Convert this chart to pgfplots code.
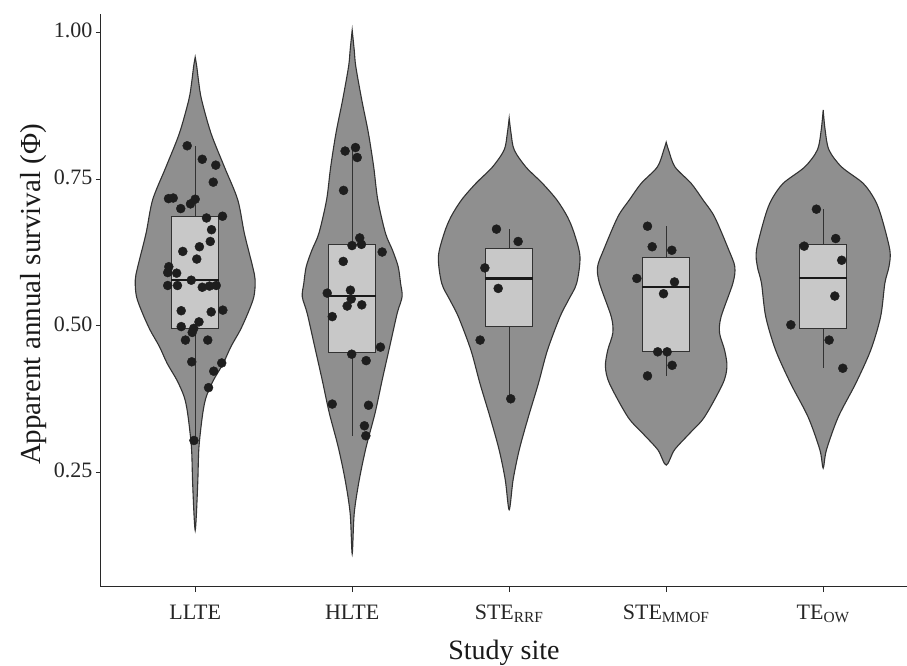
\documentclass[border=0pt]{standalone}
\usepackage{pgfplots}
\pgfplotsset{compat=1.18}
\usepackage{fontspec}
\setmainfont{Liberation Serif}
\definecolor{violgray}{RGB}{143,143,143}
\definecolor{boxgray}{RGB}{200,200,200}
\definecolor{ptcol}{RGB}{30,30,30}
\definecolor{outl}{RGB}{50,50,50}
\definecolor{axcol}{RGB}{40,40,40}
\begin{document}
\begin{tikzpicture}
\begin{axis}[
  scale only axis, width=806pt, height=573pt,
  xmin=0.4, xmax=5.534, ymin=0.0554, ymax=1.0315,
  axis x line*=bottom, axis y line*=left,
  axis line style={-, draw=axcol, line width=1pt},
  tick align=outside, major tick length=5pt,
  tick style={draw=axcol, line width=1pt},
  xtick={1,2,3,4,5},
  xticklabels={LLTE,HLTE,STE\textsubscript{RRF},STE\textsubscript{MMOF},TE\textsubscript{OW}},
  ytick={0.25,0.5,0.75,1},
  yticklabel style={/pgf/number format/.cd,fixed,fixed zerofill,precision=2,assume math mode=true},
  ticklabel style={font=\fontsize{22}{26}\selectfont, text=black!85},
  xticklabel style={yshift=-6pt},
  typeset ticklabels with strut,
  xlabel={Study site}, ylabel={Apparent annual survival (Φ)},
  label style={font=\fontsize{28}{33}\selectfont, text=black!90},
  xlabel style={at={(axis description cs:0.5,0)}, anchor=base, yshift=-72pt},
  ylabel style={at={(axis description cs:0,0.5)}, anchor=center, yshift=67pt, xshift=6pt, font=\fontsize{29}{34}\selectfont},
  clip=false,
]
% violins
\addplot[smooth, tension=0.5, fill=violgray, draw=outl, line width=1.1pt] coordinates {
(1.000,0.958) (1.010,0.942) (1.023,0.914) (1.041,0.885) (1.101,0.828) (1.186,0.771) (1.271,0.715) (1.313,0.658) (1.366,0.601) (1.382,0.578) (1.374,0.550) (1.336,0.522) (1.287,0.493) (1.228,0.465) (1.178,0.436) (1.117,0.408) (1.071,0.380) (1.048,0.351) (1.024,0.294) (1.017,0.238) (1.008,0.181) (1.000,0.152)
(0.992,0.181) (0.983,0.238) (0.976,0.294) (0.952,0.351) (0.929,0.380) (0.883,0.408) (0.822,0.436) (0.772,0.465) (0.713,0.493) (0.664,0.522) (0.626,0.550) (0.618,0.578) (0.634,0.601) (0.687,0.658) (0.729,0.715) (0.814,0.771) (0.899,0.828) (0.959,0.885) (0.977,0.914) (0.990,0.942) (1.000,0.958)} -- cycle;
\addplot[smooth, tension=0.5, fill=violgray, draw=outl, line width=1.1pt] coordinates {
(2.000,1.004) (2.013,0.970) (2.023,0.942) (2.061,0.885) (2.103,0.829) (2.137,0.771) (2.163,0.715) (2.212,0.658) (2.257,0.629) (2.293,0.601) (2.308,0.573) (2.318,0.550) (2.287,0.522) (2.239,0.465) (2.191,0.408) (2.146,0.352) (2.089,0.294) (2.045,0.238) (2.013,0.181) (2.000,0.112)
(1.987,0.181) (1.955,0.238) (1.911,0.294) (1.854,0.352) (1.809,0.408) (1.761,0.465) (1.713,0.522) (1.682,0.550) (1.692,0.573) (1.707,0.601) (1.743,0.629) (1.788,0.658) (1.837,0.715) (1.863,0.771) (1.897,0.829) (1.939,0.885) (1.977,0.942) (1.987,0.970) (2.000,1.004)} -- cycle;
\addplot[smooth, tension=0.5, fill=violgray, draw=outl, line width=1.1pt] coordinates {
(3.000,0.854) (3.012,0.828) (3.032,0.800) (3.106,0.771) (3.212,0.743) (3.303,0.715) (3.371,0.686) (3.414,0.658) (3.451,0.618) (3.430,0.573) (3.377,0.544) (3.324,0.516) (3.244,0.459) (3.186,0.402) (3.122,0.345) (3.064,0.289) (3.025,0.238) (3.000,0.187)
(2.975,0.238) (2.936,0.289) (2.878,0.345) (2.814,0.402) (2.756,0.459) (2.676,0.516) (2.623,0.544) (2.570,0.573) (2.549,0.618) (2.586,0.658) (2.629,0.686) (2.697,0.715) (2.788,0.743) (2.894,0.771) (2.968,0.800) (2.988,0.828) (3.000,0.854)} -- cycle;
\addplot[smooth, tension=0.5, fill=violgray, draw=outl, line width=1.1pt] coordinates {
(4.000,0.813) (4.015,0.800) (4.056,0.771) (4.159,0.743) (4.234,0.715) (4.308,0.686) (4.398,0.630) (4.437,0.601) (4.425,0.573) (4.350,0.516) (4.340,0.488) (4.372,0.459) (4.387,0.431) (4.361,0.402) (4.244,0.345) (4.149,0.317) (4.053,0.289) (4.000,0.263)
(3.947,0.289) (3.851,0.317) (3.756,0.345) (3.639,0.402) (3.613,0.431) (3.628,0.459) (3.660,0.488) (3.650,0.516) (3.575,0.573) (3.563,0.601) (3.602,0.630) (3.692,0.686) (3.766,0.715) (3.841,0.743) (3.944,0.771) (3.985,0.800) (4.000,0.813)} -- cycle;
\addplot[smooth, tension=0.5, fill=violgray, draw=outl, line width=1.1pt] coordinates {
(5.000,0.868) (5.012,0.835) (5.037,0.800) (5.117,0.771) (5.255,0.743) (5.329,0.715) (5.371,0.686) (5.425,0.629) (5.419,0.601) (5.393,0.573) (5.366,0.516) (5.303,0.459) (5.207,0.402) (5.096,0.345) (5.021,0.289) (5.000,0.258)
(4.979,0.289) (4.904,0.345) (4.793,0.402) (4.697,0.459) (4.634,0.516) (4.607,0.573) (4.581,0.601) (4.575,0.629) (4.629,0.686) (4.671,0.715) (4.745,0.743) (4.883,0.771) (4.963,0.800) (4.988,0.835) (5.000,0.868)} -- cycle;
% whiskers
\addplot[draw=outl, line width=1pt] coordinates {(1,0.686) (1,0.807)};
\addplot[draw=outl, line width=1pt] coordinates {(1,0.495) (1,0.305)};
\addplot[draw=outl, line width=1pt] coordinates {(2,0.639) (2,0.804)};
\addplot[draw=outl, line width=1pt] coordinates {(2,0.455) (2,0.313)};
\addplot[draw=outl, line width=1pt] coordinates {(3,0.632) (3,0.665)};
\addplot[draw=outl, line width=1pt] coordinates {(3,0.499) (3,0.376)};
\addplot[draw=outl, line width=1pt] coordinates {(4,0.616) (4,0.670)};
\addplot[draw=outl, line width=1pt] coordinates {(4,0.456) (4,0.415)};
\addplot[draw=outl, line width=1pt] coordinates {(5,0.639) (5,0.699)};
\addplot[draw=outl, line width=1pt] coordinates {(5,0.495) (5,0.428)};
% boxes
\addplot[fill=boxgray, draw=outl, line width=1pt] coordinates {(0.849,0.495) (1.151,0.495) (1.151,0.686) (0.849,0.686)} -- cycle;
\addplot[fill=boxgray, draw=outl, line width=1pt] coordinates {(1.849,0.455) (2.151,0.455) (2.151,0.639) (1.849,0.639)} -- cycle;
\addplot[fill=boxgray, draw=outl, line width=1pt] coordinates {(2.849,0.499) (3.151,0.499) (3.151,0.632) (2.849,0.632)} -- cycle;
\addplot[fill=boxgray, draw=outl, line width=1pt] coordinates {(3.849,0.456) (4.151,0.456) (4.151,0.616) (3.849,0.616)} -- cycle;
\addplot[fill=boxgray, draw=outl, line width=1pt] coordinates {(4.849,0.495) (5.151,0.495) (5.151,0.639) (4.849,0.639)} -- cycle;
% medians
\addplot[draw=black!90, line width=2.4pt] coordinates {(0.849,0.578) (1.151,0.578)};
\addplot[draw=black!90, line width=2.4pt] coordinates {(1.849,0.551) (2.151,0.551)};
\addplot[draw=black!90, line width=2.4pt] coordinates {(2.849,0.581) (3.151,0.581)};
\addplot[draw=black!90, line width=2.4pt] coordinates {(3.849,0.566) (4.151,0.566)};
\addplot[draw=black!90, line width=2.4pt] coordinates {(4.849,0.582) (5.151,0.582)};
% points
\addplot[only marks, mark=*, mark size=4.5pt, mark options={fill=ptcol, draw=ptcol}] coordinates {
(0.949,0.807) (1.045,0.784) (1.131,0.774) (1.115,0.745) (0.830,0.717) (0.860,0.718) (0.908,0.700) (0.970,0.708) (1.000,0.716)
(1.072,0.684) (1.174,0.687) (1.104,0.664) (1.096,0.644) (1.027,0.635) (0.921,0.627) (1.010,0.614) (0.832,0.601) (0.825,0.591)
(0.882,0.590) (0.825,0.569) (0.887,0.569) (0.975,0.578) (1.045,0.566) (1.091,0.568) (1.134,0.569) (0.911,0.526) (1.102,0.524)
(1.176,0.527) (0.911,0.499) (1.024,0.507) (0.991,0.496) (0.981,0.489) (0.938,0.476) (1.080,0.476) (0.978,0.439) (1.169,0.437)
(1.118,0.423) (1.085,0.395) (0.992,0.305)
(1.955,0.798) (2.021,0.804) (2.032,0.787) (1.945,0.731) (2.048,0.650) (1.999,0.637) (2.059,0.639) (2.191,0.626) (1.943,0.610)
(1.989,0.561) (1.841,0.556) (1.994,0.546) (1.968,0.534) (2.061,0.536) (1.873,0.516) (2.180,0.464) (1.997,0.452) (2.089,0.441)
(1.873,0.367) (2.104,0.365) (2.078,0.330) (2.087,0.313)
(2.919,0.665) (3.057,0.644) (2.845,0.599) (2.930,0.564) (2.815,0.476) (3.010,0.376)
(3.881,0.670) (3.911,0.635) (4.036,0.629) (3.813,0.581) (4.053,0.575) (3.983,0.555) (3.946,0.456) (4.006,0.456) (4.038,0.433) (3.881,0.415)
(4.957,0.699) (5.080,0.649) (4.879,0.636) (5.118,0.612) (5.074,0.551) (4.794,0.502) (5.038,0.476) (5.125,0.428)
};
\end{axis}
\pgfresetboundingbox
\path[use as bounding box] (-101pt,-79pt) rectangle (806pt,587pt);
\end{tikzpicture}
\end{document}
